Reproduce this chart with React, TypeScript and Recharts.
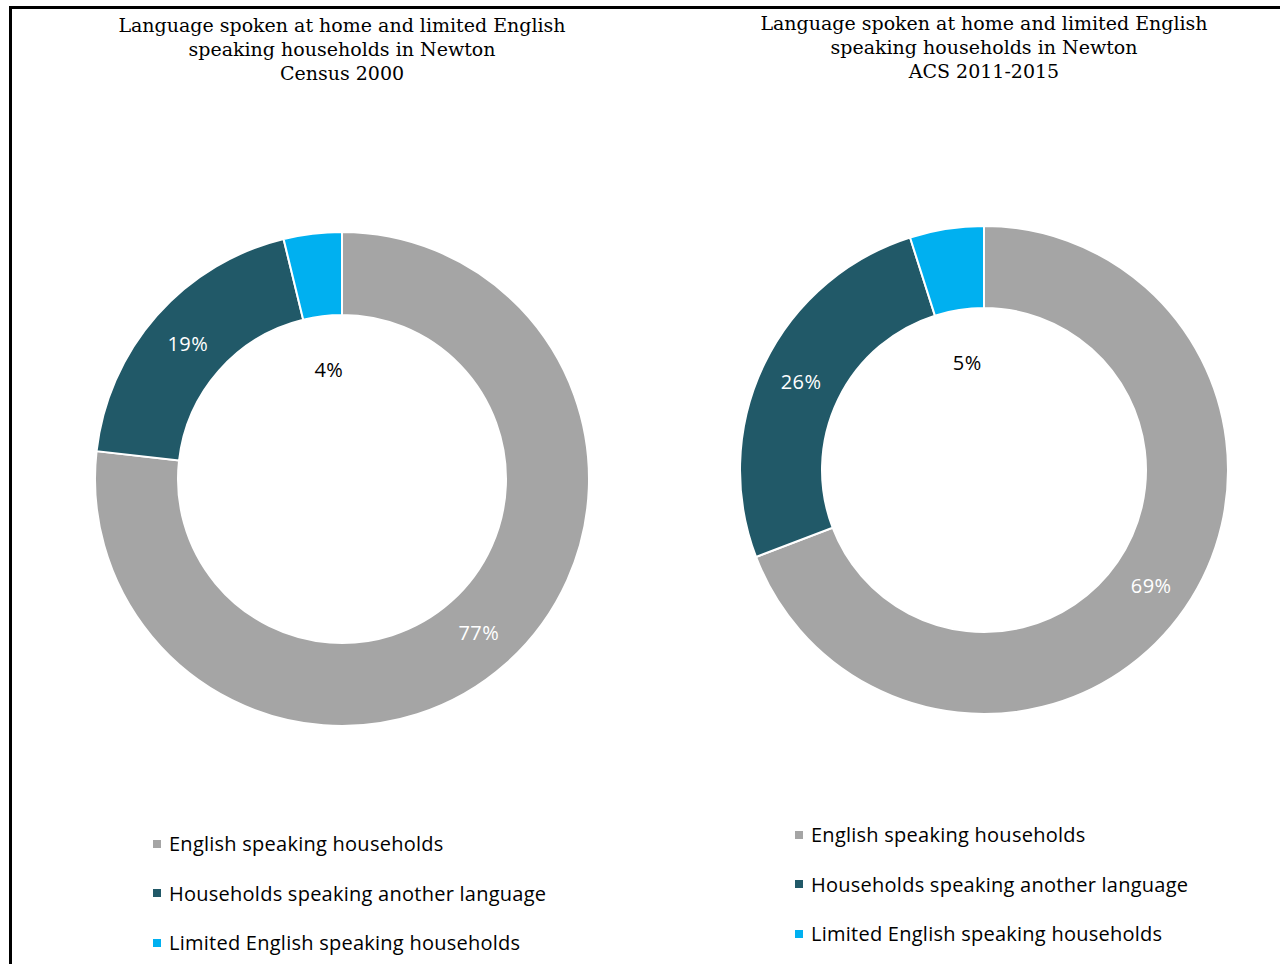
import React from 'react';
import { PieChart, Pie, Cell, Legend } from 'recharts';

const categories = [
  'English speaking households',
  'Households speaking another language',
  'Limited English speaking households',
];
const census2000Values = [76.8, 19.4, 3.8];
const acs2015Values = [69.2, 25.9, 4.9];
const census2000Title = ['Language spoken at home and limited English', 'speaking households in Newton', 'Census 2000'];
const acs2015Title = ['Language spoken at home and limited English', 'speaking households in Newton', 'ACS 2011-2015'];

const COLORS = ['#A5A5A5', '#215968', '#00B0F0'];
const LABEL_FONT = '"Open Sans", "DejaVu Sans", sans-serif';
const RADIAN = Math.PI / 180;

const renderLabel = (props: any) => {
  const { cx, cy, midAngle, innerRadius, outerRadius, value, index } = props;
  const small = index === 2;
  const r = small ? innerRadius * 0.67 : (innerRadius + outerRadius) / 2;
  const x = cx + r * Math.cos(-midAngle * RADIAN);
  const y = cy + r * Math.sin(-midAngle * RADIAN);
  return (
    <text
      x={x}
      y={y}
      fill={small ? '#000000' : '#ffffff'}
      textAnchor="middle"
      dominantBaseline="central"
      fontFamily={LABEL_FONT}
      fontSize={20}
      letterSpacing={0.5}
    >
      {`${Math.round(value)}%`}
    </text>
  );
};

const LegendList = (props: any) => {
  const payload = props.payload && props.payload.length ? props.payload : categories.map((c, i) => ({ value: c, color: COLORS[i] }));
  return (
    <div>
      {payload.map((entry: any, i: number) => (
        <div key={i} style={{ display: 'flex', alignItems: 'center', height: 49.5, fontFamily: LABEL_FONT, fontSize: 20, letterSpacing: 0.25, color: '#000' }}>
          <span style={{ display: 'inline-block', width: 8, height: 8, background: COLORS[i], marginRight: 8 }} />
          <span>{categories[i]}</span>
        </div>
      ))}
    </div>
  );
};

interface DonutProps {
  title: string[];
  values: number[];
  left: number;
  cx: number;
  cy: number;
  inner: number;
  outer: number;
  titleTop: number;
  legendLeft: number;
  legendTop: number;
}

const Donut: React.FC<DonutProps> = ({ title, values, left, cx, cy, inner, outer, titleTop, legendLeft, legendTop }) => {
  const data = categories.map((name, i) => ({ name, value: values[i] }));
  return (
    <div style={{ position: 'absolute', left, top: 0, width: 640, height: 964 }}>
      <div
        style={{
          position: 'absolute',
          left: cx - 320,
          top: titleTop,
          width: 640,
          textAlign: 'center',
          fontFamily: '"DejaVu Serif", serif',
          fontSize: 19,
          lineHeight: '24px',
          color: '#000',
          zIndex: 2,
        }}
      >
        {title.map((t, i) => (
          <div key={i}>{t}</div>
        ))}
      </div>
      <PieChart width={640} height={964} margin={{ top: 0, right: 0, bottom: 0, left: 0 }}>
        <Pie
          data={data}
          dataKey="value"
          nameKey="name"
          cx={cx}
          cy={cy}
          innerRadius={inner}
          outerRadius={outer}
          startAngle={90}
          endAngle={-270}
          stroke="#ffffff"
          strokeWidth={2}
          labelLine={false}
          label={renderLabel}
          isAnimationActive={false}
        >
          {data.map((_, i) => (
            <Cell key={i} fill={COLORS[i]} />
          ))}
        </Pie>
        <Legend
          content={<LegendList />}
          wrapperStyle={{ left: legendLeft, top: legendTop, width: 480, bottom: 'auto' }}
        />
      </PieChart>
    </div>
  );
};

export default function App() {
  return (
    <div style={{ position: 'absolute', left: 0, top: 0, width: 1280, height: 964, overflow: 'hidden', background: '#fff' }}>
      <div style={{ position: 'absolute', left: 9, top: 6, width: 1400, height: 1100, border: '3px solid #000' }} />
      <Donut
        title={census2000Title}
        values={census2000Values}
        left={0}
        cx={342}
        cy={479}
        inner={164}
        outer={247}
        titleTop={13}
        legendLeft={153}
        legendTop={819}
      />
      <Donut
        title={acs2015Title}
        values={acs2015Values}
        left={640}
        cx={344}
        cy={470}
        inner={162}
        outer={244}
        titleTop={11}
        legendLeft={155}
        legendTop={810}
      />
    </div>
  );
}
